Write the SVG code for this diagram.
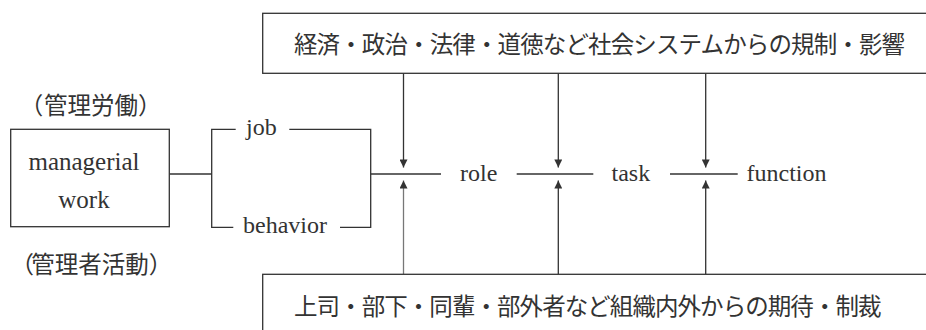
<svg xmlns="http://www.w3.org/2000/svg" width="926" height="330" viewBox="0 0 926 330">
<defs>
<style>
.ln{fill:none;stroke:#333;stroke-width:1.3}
.box{fill:#fff;stroke:#333;stroke-width:1.3}
.en{font-family:"Liberation Serif","DejaVu Serif",serif;font-size:24px;fill:#333}
.jp{font-family:"Noto Sans CJK JP","Noto Sans CJK SC",sans-serif;font-size:23.5px;fill:#333}
</style>
<marker id="ah" viewBox="0 0 10 10" refX="10" refY="5" markerWidth="9" markerHeight="8" markerUnits="userSpaceOnUse" orient="auto">
<path d="M0,0 L10,5 L0,10 Z" fill="#333"/>
</marker>
</defs>
<rect width="926" height="330" fill="#fff"/>
<g id="connectors">
<path class="ln" d="M169.3,174 H211.7"/>
<path class="ln" d="M235.7,129.3 H211.7 V227.3 H233.3"/>
<path class="ln" d="M289.3,129.3 H370.7 V227.3 H340"/>
<path class="ln" d="M370.7,174 H441"/>
<path class="ln" d="M516.7,174 H593.3"/>
<path class="ln" d="M670,174 H737.7"/>
<path class="ln" d="M403.5,73.3 V167.5" marker-end="url(#ah)"/>
<path class="ln" d="M558.3,73.3 V167.5" marker-end="url(#ah)"/>
<path class="ln" d="M705.7,73.3 V167.5" marker-end="url(#ah)"/>
<path class="ln" d="M403.5,274.3 V180.5" marker-end="url(#ah)" style="stroke:#777"/>
<path class="ln" d="M558.3,274.3 V180.5" marker-end="url(#ah)"/>
<path class="ln" d="M705.7,274.3 V180.5" marker-end="url(#ah)"/>
</g>
<g id="managerial-work">
<rect class="box" x="10.7" y="129.3" width="158.6" height="97.4"/>
<text class="en" x="84" y="169.5" text-anchor="middle" style="font-size:25px">managerial</text>
<text class="en" x="84" y="208" text-anchor="middle" style="font-size:25px">work</text>
</g>
<g id="label-kanri-roudou">
<text class="jp" x="19.8 44 67.5 91 114.5 138" y="114">（管理労働）</text>
</g>
<g id="label-kanrisha-katsudou">
<text class="jp" x="10.4 31.3 54.8 78.3 101.8 125.3 148.8" y="273">（管理者活動）</text>
</g>
<g id="job"><text class="en" x="246" y="135">job</text></g>
<g id="behavior"><text class="en" x="243" y="232.7">behavior</text></g>
<g id="role"><text class="en" x="460" y="181">role</text></g>
<g id="task"><text class="en" x="611.5" y="181">task</text></g>
<g id="function"><text class="en" x="746.5" y="181">function</text></g>
<g id="social-system">
<rect class="box" x="262.7" y="13.3" width="680" height="60"/>
<text class="jp" x="294" y="53" textLength="611" lengthAdjust="spacing">経済・政治・法律・道徳など社会システムからの規制・影響</text>
</g>
<g id="organization">
<rect class="box" x="262.7" y="274.3" width="680" height="70"/>
<text class="jp" x="294" y="315" textLength="587.5" lengthAdjust="spacing">上司・部下・同輩・部外者など組織内外からの期待・制裁</text>
</g>
</svg>
